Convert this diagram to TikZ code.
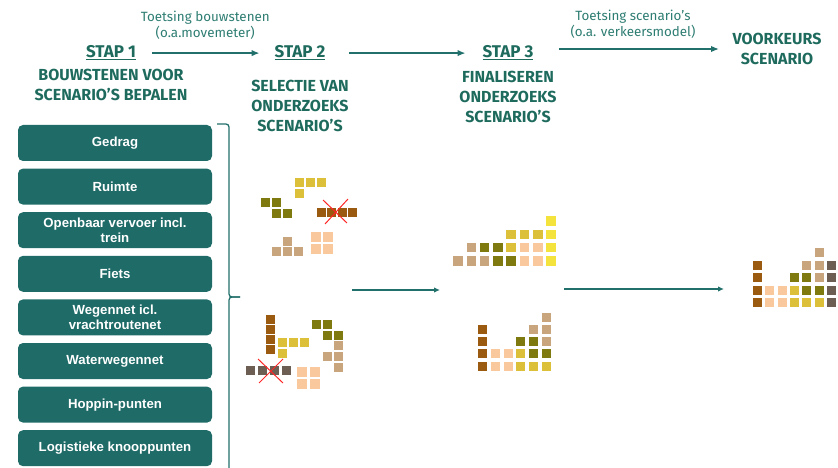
\documentclass[tikz,border=0pt]{standalone}
\usepackage{fontspec}
\setmainfont{Fira Sans}
\newfontfamily\arialfont{Liberation Sans}
\usepackage{tikz}
\usetikzlibrary{positioning, arrows.meta}
\definecolor{tealtext}{HTML}{1E6B5E}
\definecolor{tealsoft}{HTML}{2E7D72}
\definecolor{tealbox}{HTML}{1F6B68}
\definecolor{tealline}{HTML}{22706B}
\definecolor{blkgold}{HTML}{DCC03A}
\definecolor{blklemon}{HTML}{F3E33C}
\definecolor{blkolive}{HTML}{7E7A10}
\definecolor{blkbrown}{HTML}{9A5A10}
\definecolor{blktan}{HTML}{C9A57E}
\definecolor{blkpeach}{HTML}{F9C89C}
\definecolor{blkdark}{HTML}{6C5E52}
\tikzset{
  stap/.style  = {font=\bfseries\fontsize{17}{20}\selectfont, text=tealtext, anchor=base},
  desc/.style  = {font=\bfseries\fontsize{16}{20}\selectfont, text=tealtext, align=center},
  toets/.style = {font=\fontsize{13.4}{16}\selectfont, text=tealsoft, align=center},
  blok/.style  = {rectangle, rounded corners=5pt, fill=tealbox, text=white,
                  minimum width=194pt, minimum height=36pt, inner sep=2pt,
                  align=center, font=\arialfont\bfseries\fontsize{13.2}{15.5}\selectfont},
  sq/.style    = {rectangle, inner sep=0pt, minimum size=9pt},
  arr/.style   = {-{Latex[length=8pt,width=6.5pt]}, line width=2.4pt, draw=tealline},
  brk/.style   = {line width=1.3pt, draw=tealline, rounded corners=3pt},
  kruis/.style = {draw=red!85!white, line width=1pt},
}
\begin{document}
\begin{tikzpicture}[x=1pt, y=-1pt]
  \useasboundingbox (0,0) rectangle (838,468);

  % HEADER: steps
  \node[stap] (stap1) at (111,58) {\underline{STAP 1}};
  \node[stap] (stap2) at (300,58) {\underline{STAP 2}};
  \node[stap] (stap3) at (508,58) {\underline{STAP 3}};
  \node[desc, below=2pt of stap1] (desc1) {BOUWSTENEN VOOR\\SCENARIO'S BEPALEN};
  \node[desc, below=12.5pt of stap2] (desc2) {SELECTIE VAN\\ONDERZOEKS\\SCENARIO'S};
  \node[desc, below=4pt of stap3] (desc3) {FINALISEREN\\ONDERZOEKS\\SCENARIO'S};
  \node[desc] (voork) at (777,49) {VOORKEURS\\SCENARIO};

  \draw[arr, shorten <=12.5pt, shorten >=11.5pt] (stap1.east) -- (stap2.west)
       node[toets, midway, above=9pt] (toets1) {Toetsing bouwstenen\\(o.a.movemeter)};
  \draw[arr, shorten <=20pt, shorten >=13.5pt] (stap2.east) -- (stap3.west);
  \draw[arr, shorten <=22pt, shorten >=10pt] (stap3.east |- voork.west) -- (voork.west)
       node[toets, midway, above=6pt] (toets2) {Toetsing scenario's\\(o.a. verkeersmodel)};

  % LEFT: building blocks
  \node[blok] (gedrag) at (115,143) {Gedrag};
  \node[blok, below=7.2pt of gedrag] (ruimte) {Ruimte};
  \node[blok, below=7.2pt of ruimte] (ov) {Openbaar vervoer incl.\\trein};
  \node[blok, below=7.2pt of ov] (fiets) {Fiets};
  \node[blok, below=7.2pt of fiets] (weg) {Wegennet icl.\\vrachtroutenet};
  \node[blok, below=7.2pt of weg] (water) {Waterwegennet};
  \node[blok, below=7.2pt of water] (hoppin) {Hoppin-punten};
  \node[blok, below=7.2pt of hoppin] (logist) {Logistieke knooppunten};

  % bracket
  \draw[brk] (217,124) -| (229,297) -- (240,297);
  \draw[brk] (240,297) -- (229,297) -- (229,468);

  % STAP 2: loose blocks
  \foreach \x/\y/\c [count=\i] in {299/182.5/blkgold, 310/182.5/blkgold, 321/182.5/blkgold, 299/193.5/blkgold,
      265.5/202.5/blkolive, 276.5/202.5/blkolive, 276.5/213/blkolive, 287.5/213/blkolive,
      321/212/blkbrown, 331.5/212/blkbrown, 342/212/blkbrown, 352.5/212/blkbrown,
      287/241/blktan, 276/251.5/blktan, 287/251.5/blktan, 298/251.5/blktan}
    \node[sq, fill=\c] (a\i) at (\x,\y) {};
  \foreach \x/\y [count=\i] in {315.5/236.5, 327.5/236.5, 315.5/248.5, 327.5/248.5}
    \node[sq, minimum size=10pt, fill=blkpeach] (ap\i) at (\x,\y) {};
  \draw[kruis] (323,200) -- (347,223) (348,199) -- (325,224);

  \foreach \x/\y/\c [count=\i] in {270/319/blkbrown, 270/329/blkbrown, 270/339/blkbrown, 270/349/blkbrown,
      282.5/342/blkgold, 293.5/342/blkgold, 304.5/342/blkgold, 282.5/353/blkgold,
      316/324/blkolive, 327/324/blkolive, 327/335/blkolive, 338/335/blkolive,
      338/345.5/blktan, 327/356/blktan, 338/356/blktan, 338/367/blktan,
      250/370/blkdark, 262/370/blkdark, 274/370/blkdark, 286/370/blkdark}
    \node[sq, fill=\c] (b\i) at (\x,\y) {};
  \foreach \x/\y [count=\i] in {301.5/371.5, 314.5/371.5, 301.5/384, 314.5/384}
    \node[sq, minimum size=10pt, fill=blkpeach] (bp\i) at (\x,\y) {};
  \draw[kruis] (258,359) -- (283,383) (283,359) -- (259,383);

  % STAP 3: stacked blocks
  \foreach \c/\r/\f in {0/0/blktan, 1/0/blktan, 2/0/blktan, 3/0/blkolive, 4/0/blkolive,
      5/0/blkpeach, 6/0/blkpeach, 7/0/blklemon,
      1/1/blktan, 2/1/blkolive, 3/1/blkolive, 4/1/blkgold, 5/1/blkpeach, 6/1/blkpeach, 7/1/blklemon,
      4/2/blkgold, 5/2/blkgold, 6/2/blkgold, 7/2/blklemon, 7/3/blklemon}
    \node[sq, minimum size=9.5pt, fill=\f] (c-\c-\r) at ({458+13.3*\c},{261-13.3*\r}) {};

  \foreach \c/\r/\f in {0/0/blkbrown, 0/1/blkbrown, 0/2/blkbrown, 0/3/blkbrown,
      1/0/blkpeach, 1/1/blkpeach, 2/0/blkpeach, 2/1/blkpeach,
      3/0/blkgold, 3/1/blkgold, 3/2/blkolive,
      4/0/blkgold, 4/1/blkolive, 4/2/blkolive, 4/3/blktan,
      5/0/blkgold, 5/1/blkolive, 5/2/blktan, 5/3/blktan, 5/4/blktan}
    \node[sq, fill=\f] (d-\c-\r) at ({482.5+12.8*\c},{366-12.25*\r}) {};

  % VOORKEURS: final stack
  \foreach \c/\r/\f in {0/0/blkbrown, 0/1/blkbrown, 0/2/blkbrown, 0/3/blkbrown,
      1/0/blkpeach, 1/1/blkpeach, 2/0/blkpeach, 2/1/blkpeach,
      3/0/blkgold, 3/1/blkgold, 3/2/blkolive,
      4/0/blkgold, 4/1/blkolive, 4/2/blkolive, 4/3/blktan,
      5/0/blkgold, 5/1/blkolive, 5/2/blktan, 5/3/blktan, 5/4/blktan,
      6/0/blkdark, 6/1/blkdark, 6/2/blkdark, 6/3/blkdark}
    \node[sq, fill=\f] (e-\c-\r) at ({757.5+12.35*\c},{302.5-12.5*\r}) {};

  % middle arrows
  \coordinate (m1a) at (352,290);
  \coordinate (m1b) at (440,290);
  \coordinate (m2a) at (564,289);
  \coordinate (m2b) at (724,289);
  \draw[arr, line width=2pt, -{Latex[length=6pt,width=5.5pt]}] (m1a) -- (m1b);
  \draw[arr, line width=2pt, -{Latex[length=6pt,width=5.5pt]}] (m2a) -- (m2b);

\end{tikzpicture}
\end{document}
